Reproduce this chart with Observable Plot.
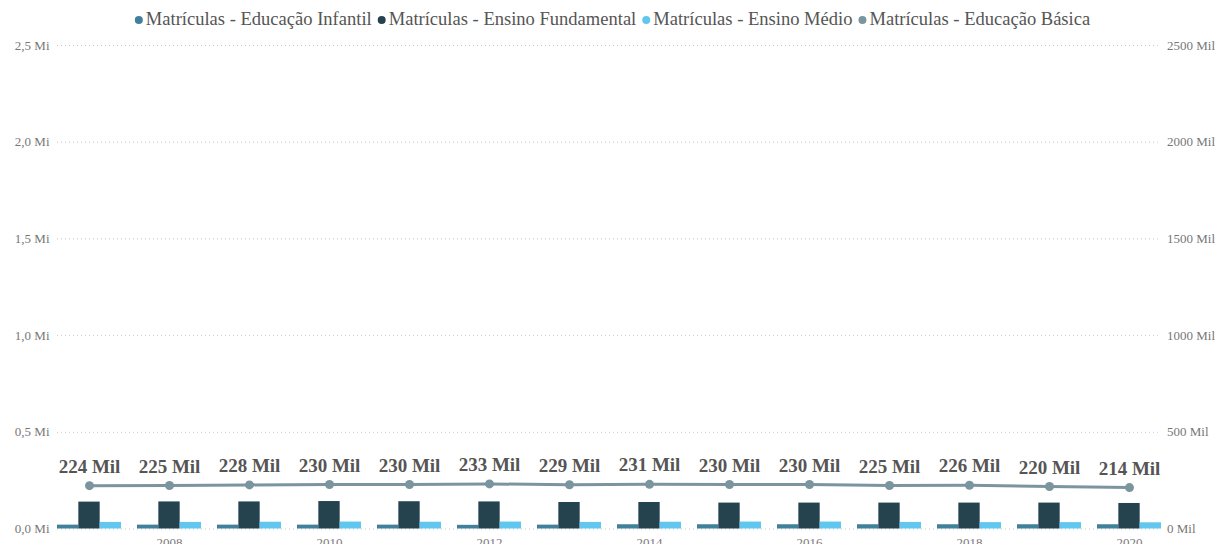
<!DOCTYPE html>
<html><head><meta charset="utf-8">
<script src="https://cdn.jsdelivr.net/npm/d3@7"></script>
<script src="https://cdn.jsdelivr.net/npm/@observablehq/plot@0.6"></script>
<style>
body{margin:0;background:#fff;overflow:hidden;}
svg{display:block;overflow:visible;}
</style></head>
<body>
<div id="legend"></div>
<div id="chart"></div>
<script>
const years = [2007,2008,2009,2010,2011,2012,2013,2014,2015,2016,2017,2018,2019,2020];
// values in thousands (Mil)
const infantil    = [20,20,20,20,20,19,20,22,22,22,22,22,22,22];
const fundamental = [139,140,140,142,141,140,137,137,134,134,134,134,134,132];
const medio       = [34,34,35,36,35,36,34,35,36,36,34,33,33,32];
const basica      = [224,225,228,230,230,233,229,231,230,230,225,226,220,214];
const seriesNames = ["Matrículas - Educação Infantil","Matrículas - Ensino Fundamental","Matrículas - Ensino Médio","Matrículas - Educação Básica"];
const colors = ["#41809c","#25434f","#62c7ee","#7b959f"];
const leftTicks = [0,500,1000,1500,2000,2500];
const xTickYears = [2008,2010,2012,2014,2016,2018,2020];

// legend as SVG text
const lsvg = d3.select("#legend").append("svg").attr("width",1217).attr("height",40);
const g = lsvg.append("g");
let fs = 18;
const texts = seriesNames.map(n => g.append("text").text(n)
  .attr("font-family","Liberation Serif, serif").attr("font-size",fs).attr("fill","#555")
  .attr("dominant-baseline","middle").attr("y",21));
// scale font so first label matches reference width (~226px)
const w0 = texts[0].node().getComputedTextLength();
fs = fs * 226 / w0;
texts.forEach(t => t.attr("font-size", fs));
let x = 0;
texts.forEach((t,i) => {
  g.insert("circle","text").attr("cx", x + 4).attr("cy", 20).attr("r", 4).attr("fill", colors[i]);
  t.attr("x", x + 11);
  x += 11 + t.node().getComputedTextLength() + 6;
});
const total = x - 6;
g.attr("transform", `translate(${(1217 - total)/2 + 4},0)`);

const barW = 0.8/3;
const bars = [];
years.forEach((y,i)=>{
  [infantil,fundamental,medio].forEach((arr,k)=>{
    bars.push({year:y, x1:y-0.4+k*barW, x2:y-0.4+(k+1)*barW, v:arr[i], s:seriesNames[k], c:colors[k]});
  });
});
const line = years.map((y,i)=>({year:y, v:basica[i]}));

const plot = Plot.plot({
  width:1217, height:504,
  marginLeft:49, marginRight:48, marginTop:5, marginBottom:15.5,
  style:{fontFamily:"Liberation Serif, serif", fontSize:"13px", color:"#777", background:"transparent"},
  x:{type:"linear", domain:[2006.5,2020.5], axis:null},
  y:{domain:[0,2500], axis:null},
  marks:[
    Plot.ruleY(leftTicks,{x1:2006.6, x2:2020.36, stroke:"#c8c8c8", strokeDasharray:"1,3", strokeWidth:1}),
    Plot.rectY(bars,{x1:"x1", x2:"x2", y:"v", fill:"c"}),
    Plot.line(line,{x:"year", y:"v", stroke:colors[3], strokeWidth:3}),
    Plot.dot(line,{x:"year", y:"v", fill:colors[3], r:4.5}),
    Plot.text(line,{x:"year", y:"v", text:d=>d.v+" Mil", dy:-19, fill:"#555", fontWeight:"bold", fontSize:19}),
    Plot.axisY(leftTicks,{anchor:"left", label:null, tickSize:0, tickPadding:0, tickFormat:d=>(d/1000).toFixed(1).replace(".",",")+" Mi", fill:"#777"}),
    Plot.axisY(leftTicks,{anchor:"right", label:null, tickSize:0, tickPadding:-2.5, tickFormat:d=>d+" Mil", fill:"#777"}),
    Plot.axisX(xTickYears,{label:null, tickSize:0, tickPadding:9, tickFormat:d=>String(d), fill:"#777"})
  ]
});
document.getElementById("chart").appendChild(plot);
</script>
</body></html>
